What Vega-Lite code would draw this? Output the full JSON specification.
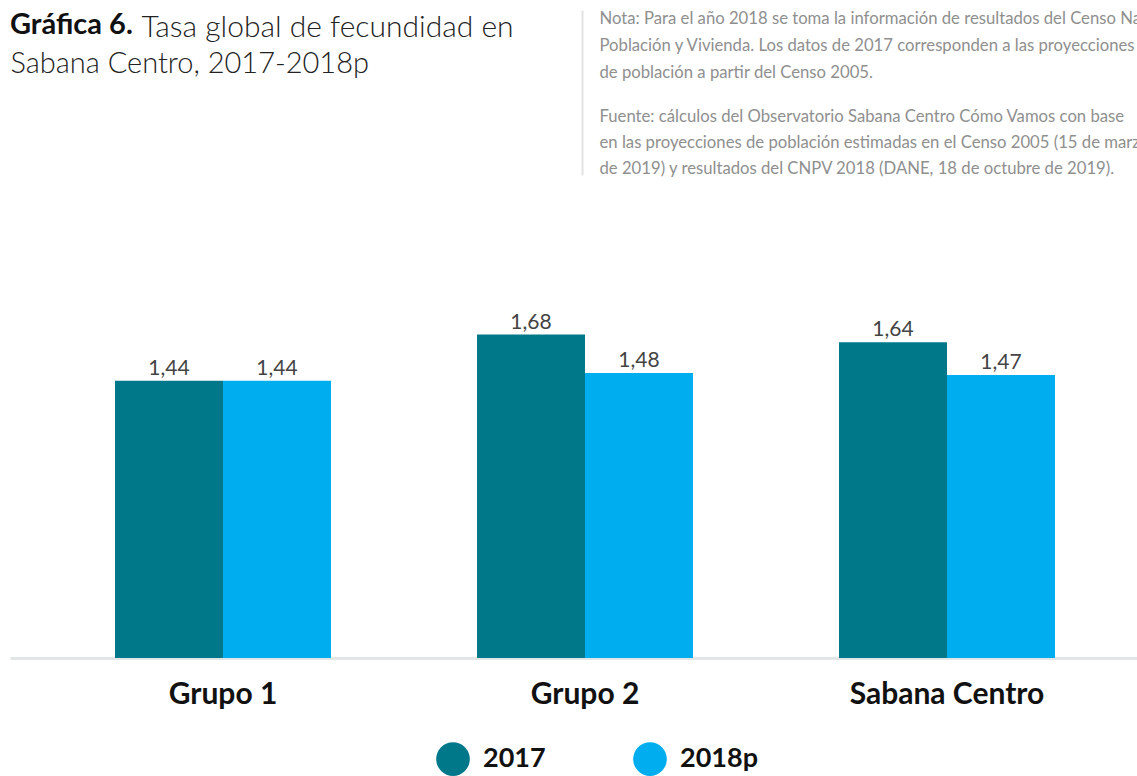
{
  "$schema": "https://vega.github.io/schema/vega-lite/v6.json",
  "autosize": {"type": "none"},
  "width": 1127,
  "height": 385,
  "padding": {"left": 10, "top": 273, "right": 0, "bottom": 118},
  "config": {
    "locale": {"number": {"decimal": ",", "thousands": ".", "grouping": [3], "currency": ["$", ""]}},
    "font": "Lato",
    "view": {"stroke": null}
  },
  "title": {
    "text": "Gráfica 6.",
    "anchor": "start",
    "frame": "group",
    "font": "Lato",
    "fontSize": 29,
    "fontWeight": "bold",
    "color": "#111111",
    "offset": -31
  },
  "data": {
    "values": [
      {"grupo": "Grupo 1", "anio": "2017", "tasa": 1.44},
      {"grupo": "Grupo 1", "anio": "2018p", "tasa": 1.44},
      {"grupo": "Grupo 2", "anio": "2017", "tasa": 1.68},
      {"grupo": "Grupo 2", "anio": "2018p", "tasa": 1.48},
      {"grupo": "Sabana Centro", "anio": "2017", "tasa": 1.64},
      {"grupo": "Sabana Centro", "anio": "2018p", "tasa": 1.47}
    ]
  },
  "layer": [
    {
      "mark": {"type": "bar"},
      "encoding": {
        "x": {
          "field": "grupo",
          "type": "nominal",
          "sort": ["Grupo 1", "Grupo 2", "Sabana Centro"],
          "scale": {"paddingInner": 0.4033, "paddingOuter": 0.2583, "align": 0.5615},
          "axis": {
            "orient": "bottom",
            "labelAngle": 0,
            "labelFont": "Lato",
            "labelFontSize": 30,
            "labelFontWeight": "bold",
            "labelColor": "#111111",
            "labelBaseline": "alphabetic",
            "labelPadding": 45,
            "labelLimit": 0,
            "ticks": false,
            "grid": false,
            "domain": true,
            "domainColor": "#e3e6e6",
            "domainWidth": 3,
            "title": ["Fuente: cálculos del Observatorio Sabana Centro Cómo Vamos con base", "en las proyecciones de población estimadas en el Censo 2005 (15 de marzo", "de 2019) y resultados del CNPV 2018 (DANE, 18 de octubre de 2019)."],
            "titleX": 589,
            "titleY": -537,
            "titleAlign": "left",
            "titleAnchor": "start",
            "titleBaseline": "alphabetic",
            "titleAngle": 0,
            "titleFont": "Lato",
            "titleFontSize": 16.7,
            "titleFontWeight": "normal",
            "titleColor": "#8f8f8f",
            "titleLineHeight": 26,
            "titleLimit": 0
          }
        },
        "xOffset": {
          "field": "anio",
          "type": "nominal",
          "sort": ["2017", "2018p"],
          "scale": {"paddingInner": 0, "paddingOuter": 0}
        },
        "y": {
          "field": "tasa",
          "type": "quantitative",
          "scale": {"domain": [0, 2], "nice": false, "zero": true},
          "axis": {
            "orient": "left",
            "labels": false,
            "ticks": false,
            "domain": false,
            "grid": false,
            "title": ["Nota: Para el año 2018 se toma la información de resultados del Censo Nacional de", "Población y Vivienda. Los datos de 2017 corresponden a las proyecciones", "de población a partir del Censo 2005."],
            "titleX": 589,
            "titleY": -250,
            "titleAlign": "left",
            "titleAnchor": "start",
            "titleBaseline": "alphabetic",
            "titleAngle": 0,
            "titleFont": "Lato",
            "titleFontSize": 16.7,
            "titleFontWeight": "normal",
            "titleColor": "#8f8f8f",
            "titleLineHeight": 27,
            "titleLimit": 0
          }
        },
        "color": {
          "field": "anio",
          "type": "nominal",
          "scale": {"domain": ["2017", "2018p"], "range": ["#00788a", "#00aeef"]},
          "legend": {
            "orient": "none",
            "legendX": 426,
            "legendY": 469,
            "direction": "horizontal",
            "title": null,
            "symbolType": "circle",
            "symbolSize": 1134,
            "symbolStrokeWidth": 0,
            "symbolOpacity": 1,
            "labelFont": "Lato",
            "labelFontSize": 27,
            "labelFontWeight": "bold",
            "labelColor": "#111111",
            "labelOffset": 13,
            "columnPadding": 87
          }
        }
      }
    },
    {
      "mark": {"type": "text", "baseline": "alphabetic", "dy": -6, "fontSize": 21, "font": "Lato", "color": "#444444"},
      "encoding": {
        "text": {"field": "tasa", "type": "quantitative", "format": ".2f"},
        "x": {
          "field": "grupo",
          "type": "nominal",
          "sort": ["Grupo 1", "Grupo 2", "Sabana Centro"],
          "scale": {"paddingInner": 0.4033, "paddingOuter": 0.2583, "align": 0.5615},
          "axis": {
            "orient": "top",
            "values": ["Grupo 2"],
            "labels": false,
            "domain": false,
            "grid": false,
            "ticks": true,
            "tickSize": 165,
            "tickOffset": -3,
            "tickColor": "#e3e3e3",
            "tickWidth": 2,
            "offset": 98,
            "title": "Sabana Centro, 2017-2018p",
            "titleX": 0,
            "titleY": -103,
            "titleAlign": "left",
            "titleAnchor": "start",
            "titleBaseline": "alphabetic",
            "titleAngle": 0,
            "titleFont": "Lato",
            "titleFontSize": 29,
            "titleFontWeight": 300,
            "titleColor": "#222222"
          }
        },
        "xOffset": {
          "field": "anio",
          "type": "nominal",
          "sort": ["2017", "2018p"],
          "scale": {"paddingInner": 0, "paddingOuter": 0}
        },
        "y": {
          "field": "tasa",
          "type": "quantitative",
          "scale": {"domain": [0, 2], "nice": false, "zero": true},
          "axis": {
            "orient": "right",
            "labels": false,
            "ticks": false,
            "domain": false,
            "grid": false,
            "title": "Tasa global de fecundidad en",
            "titleX": -996,
            "titleY": -237,
            "titleAlign": "left",
            "titleAnchor": "start",
            "titleBaseline": "alphabetic",
            "titleAngle": 0,
            "titleFont": "Lato",
            "titleFontSize": 30,
            "titleFontWeight": 300,
            "titleColor": "#222222"
          }
        }
      }
    }
  ],
  "resolve": {"axis": {"x": "independent", "y": "independent"}}
}
